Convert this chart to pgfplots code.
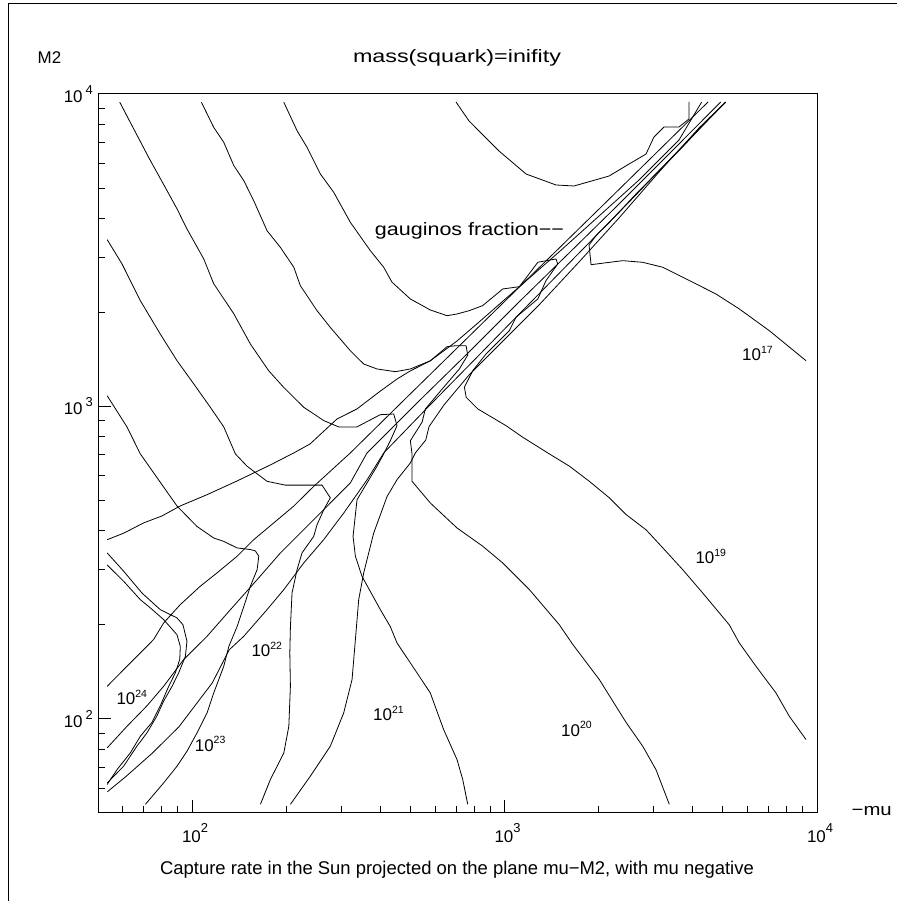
\documentclass[border=0pt]{standalone}
\usepackage{fontspec}
\setmainfont{Liberation Sans}
\usepackage{pgfplots}
\pgfplotsset{compat=1.18}
\newcommand\xtl[1]{10\raisebox{10bp}{\fontsize{13}{13}\selectfont #1}}
\newcommand\ytl[1]{10\hspace{3bp}\raisebox{8bp}{\fontsize{13}{13}\selectfont #1}}
\newcommand\cl[1]{10\raisebox{7.3bp}{\fontsize{10.5}{10.5}\selectfont #1}}
\begin{document}
\begin{tikzpicture}[x=1bp,y=1bp]
\useasboundingbox (0,0) rectangle (897,901);
\draw[line width=0.9bp] (8,0) -- (8,898) -- (897,898);
\begin{axis}[
  at={(98bp,88bp)}, anchor=south west,
  scale only axis, width=719bp, height=719bp,
  xmode=log, ymode=log,
  xmin=50, xmax=10000, ymin=50, ymax=10000,
  axis line style={line width=1bp},
  tick align=inside, tick pos=left,
  major tick length=13bp, minor tick length=7bp,
  every tick/.style={black, line width=1bp},
  xtick={100,1000,10000}, ytick={100,1000,10000},
  minor xtick={60,70,80,90,200,300,400,500,600,700,800,900,2000,3000,4000,5000,6000,7000,8000,9000},
  minor ytick={60,70,80,90,200,300,400,500,600,700,800,900,2000,3000,4000,5000,6000,7000,8000,9000},
  xticklabels={\xtl{2},\xtl{3},\xtl{4}},
  yticklabels={\ytl{2},\ytl{3},\ytl{4}},
  xticklabel style={font=\fontsize{17}{17}\selectfont, anchor=north, inner sep=0pt, yshift=-10bp, xshift=3bp},
  yticklabel style={font=\fontsize{17}{17}\selectfont, anchor=east, inner sep=0pt, xshift=-5bp},
  cycle list={{black,solid,mark=none}},
  every axis plot/.append style={line width=0.8bp},
]
% 10^21
\addplot coordinates {(58.7,9410) (63.4,8120) (72.6,6270) (83.2,4900) (89.5,4290) (96.3,3700) (109,2965) (117.3,2470) (136,1980) (153.7,1584) (176,1300) (196.6,1150) (227.7,994) (263.9,901) (294.7,860) (337,860) (400,941) (442,946) (452.8,868) (431,777) (410.5,705) (390.8,644) (337.2,503) (327.5,384) (333.2,331.5) (349.8,286) (400.4,223.8) (431,197.4) (452.8,175) (524.7,140.4) (578.7,121.1) (638.6,92.4) (704.6,74.1) (734.9,64) (762.4,53.3)};
% 10^20
\addplot coordinates {(107.1,9410) (117.3,7820) (126.3,7005) (136,5900) (146.4,5280) (157.5,4555) (173.8,3650) (191.7,3230) (211.6,2790) (222.1,2435) (251.2,2025) (277,1790) (321,1508) (354.3,1367) (390.8,1318) (447.4,1292) (499.5,1318) (578.7,1400) (654.6,1553) (699.4,1565) (753.2,1565) (762.4,1460) (716.7,1318) (638.6,1152) (558,982) (544.4,890) (499.5,777) (505.8,705) (505.8,576) (578.7,491) (704.6,408.4) (851.7,357) (986.9,315.6) (1201,259.3) (1497,200.2) (1653,173.2) (2011,133.6) (2448,97.5) (2768,81.8) (3053,68.8) (3367,53.3)};
% 10^22
\addplot coordinates {(53.5,3418) (59.7,2857) (68.3,2181) (79.1,1706) (89.5,1401) (101.3,1180) (114.4,994) (126.3,860) (137.6,705) (149.9,644) (173.8,576) (198.9,560) (260.6,560) (277,510) (263.9,467) (251.2,418.5) (245.1,384) (224.9,340) (216.8,300.5) (208.9,253) (206.4,197) (205.5,162.6) (206.4,127.2) (204,94.7) (196.6,77.8) (178.1,64) (165.5,53.3)};
% 10^19
\addplot coordinates {(196.6,9410) (216.8,7630) (233.3,6750) (257.4,5545) (284,4846) (321,3885) (372,3152) (410.5,2789) (436.4,2498) (499.5,2208) (578.7,2036) (654.6,1952) (704.6,1977) (771.5,2026) (851.7,2103) (986.9,2377) (1115,2417) (1187,2622) (1278,2894) (1461,2965) (1480,2857) (1357,2527) (1278,2208) (1088,1930) (1036,1748) (872.4,1472) (791,1301) (744,1152) (754,1070) (821,982) (1011,868) (1144,797) (1391,705) (1613,644) (1868,576) (2165,510) (2448,451) (2837,403) (3208,353) (3716,300.5) (4306,253) (5240,200) (5641,175) (6378,147.4) (7391,121.1) (8153,102) (9220,85.9)};
% 10^18
\addplot coordinates {(699,9430) (770,8196) (960,6570) (1172,5545) (1461,5114) (1669,5076) (2160,5463) (2503,5968) (2837,6425) (3007,7284) (3238,7840) (3617,7840) (3894,8318) (3894,9427)};
% 10^17
\addplot coordinates {(5102,9410) (4399,8118) (3706,6753) (3122,5683) (2635,4785) (2296,4130) (2109,3777) (1982,3565) (1864,3288) (1892,2843) (2389,2928) (2768,2893) (3208,2789) (4001,2498) (4750,2290) (5641,2051) (7036,1748) (9220,1401)};
% 10^23
\addplot coordinates {(53.5,1082) (61.9,860) (68.3,705) (89.5,480) (103.7,413) (117.3,379.4) (126.3,370) (139.3,352.6) (153.7,348.4) (159.4,345) (163.5,331.5) (161.5,300.5) (153.7,266) (146.4,228.8) (139.3,197.4) (131.1,170.6) (126.3,147.4) (117.3,121.1) (111.7,104.6) (103.7,90.2) (96.3,78.8) (89.5,70.6) (81.1,62.4) (70.9,53.3)};
% double lines lower left
\addplot coordinates {(53.5,339.8) (60.4,297) (69.1,253) (79.1,223.8) (89.5,210.5) (93.5,200.2) (96.3,177.3) (95.2,158.6) (90.6,140.4) (86.3,127.2) (81.1,114) (77.1,102) (71.7,90.2) (66.6,81.8) (60.4,70.6) (53.5,62.4)};
\addplot coordinates {(53.5,311) (60.4,275.8) (68.3,240.8) (73.5,226.7) (81.1,207.9) (89.5,186) (91.7,170.6) (91.3,154.9) (88.4,140.4) (84.2,127.2) (79.1,110.1) (74.4,97.5) (68.3,88) (63.4,77.8) (57.5,68.8) (53.5,61.7)};
% band lines
\addplot coordinates {(53.5,374.7) (60.4,393) (70,424) (80,446) (91.7,480.5) (111.7,522) (139.3,577.5) (178.1,650) (211.6,710) (238.5,758.5) (291,912) (337.2,982) (396.6,1112) (452.8,1224) (498.4,1298) (577.5,1398) (704.6,1620) (828.7,1863) (1113,2412) (1494,3121) (2007,4070) (2694,5306) (3617,7125) (4276,9427)};
\addplot coordinates {(53.5,127.2) (60.4,143.8) (66.6,158.6) (75.3,179.4) (81.1,202.8) (91.7,232.3) (106.3,266) (120.2,293.4) (139.3,331.5) (157.5,374.7) (182.6,424) (211.6,480) (245.1,555) (321,710) (459.5,1011) (664.3,1451) (960.2,2082) (1388,2987) (2007,4285) (2900,6149) (4479,9427)};
\addplot coordinates {(53.5,80.8) (61.9,94.7) (71.7,110.1) (81.1,127.2) (94,154.9) (111.7,183.9) (132.7,223.8) (161.5,279) (191.7,339.8) (227.7,403.4) (277,491) (321,569) (363,710) (532.5,1041) (769.8,1494) (1113,2160) (1609,3098) (2325,4445) (3360,6425) (4918,9427)};
\addplot coordinates {(53.6,58.5) (61.4,65.4) (74.6,77.7) (90.8,94.4) (116.1,130.5) (131.4,166.3) (146.4,183.9) (173.8,223.8) (196.6,259.3) (227.7,315.6) (263.9,375) (305.8,456) (363,582) (410.5,710) (573.2,1003) (828.7,1460) (1198,2128) (1732,3098) (2503,4512) (3617,6619) (5102,9427)};
\addplot coordinates {(206.4,53.3) (239.1,65.6) (277,81.8) (305.8,104.6) (325.1,133.6) (333.2,179.4) (341.4,240.8) (354.3,293.4) (381.3,393.4) (420.7,515) (452.8,583) (499.5,659.5) (518.2,710) (559.6,781) (573.2,862) (640,1011) (769.8,1261) (960.2,1573) (1290,2113) (1732,2900) (2325,4011) (3122,5628) (4191,7783) (5102,9427)};
\end{axis}
\begin{scope}[every node/.style={inner sep=0pt, font=\fontsize{17}{17}\selectfont}]
\node at (49.5,843.5) {M2};
\node at (457,843.5) {\scalebox{1.3}[1]{\fontsize{18}{18}\selectfont mass(squark)=inifity}};
\node at (871.7,90) {\scalebox{1.2}[1]{−mu}};
\node[font=\fontsize{18.5}{18.5}\selectfont] at (457,31) {Capture rate in the Sun projected on the plane mu−M2, with mu negative};
\node[anchor=base west] at (374.7,665.5) {\scalebox{1.2}[1]{\fontsize{18}{18}\selectfont gauginos fraction−−}};
\node[anchor=base west] at (742,540.3) {\cl{17}};
\node[anchor=base west] at (695.3,337.3) {\cl{19}};
\node[anchor=base west] at (561,164.7) {\cl{20}};
\node[anchor=base west] at (373,180.3) {\cl{21}};
\node[anchor=base west] at (251.3,244) {\cl{22}};
\node[anchor=base west] at (194.7,149.7) {\cl{23}};
\node[anchor=base west] at (116.3,196.3) {\cl{24}};
\end{scope}
\end{tikzpicture}
\end{document}
